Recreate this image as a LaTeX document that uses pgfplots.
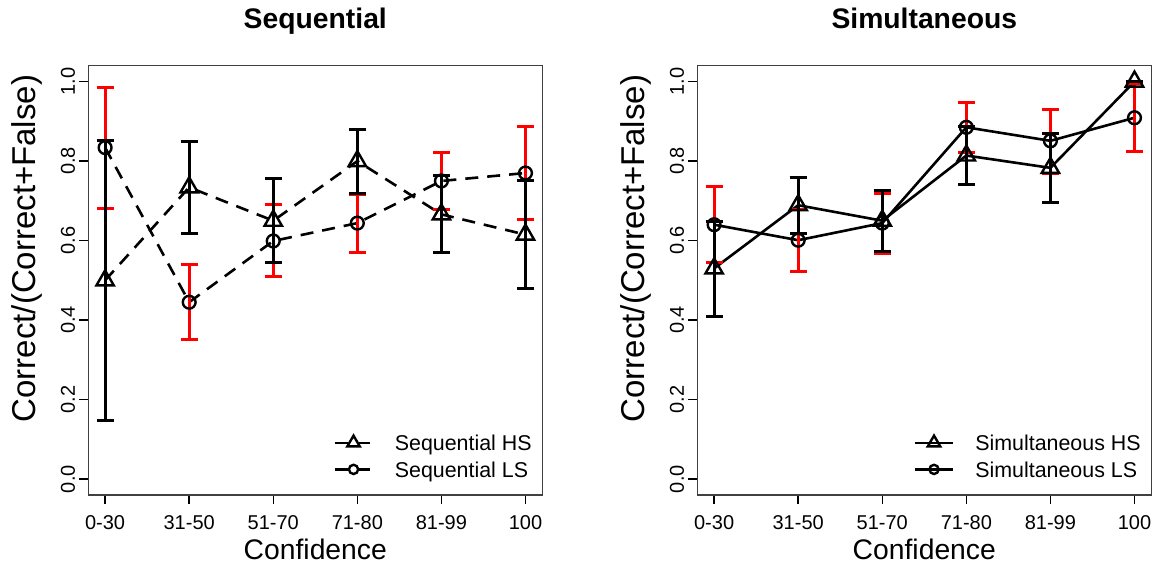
\documentclass[border=0pt]{standalone}
\usepackage{fontspec}
\setmainfont{Liberation Sans}
\usepackage{pgfplots}
\pgfplotsset{compat=1.18}
\usepackage{pgfplotstable}

\pgfplotstableread{
x y ep em
1 0.500 0.353 0.352
2 0.734 0.115 0.115
3 0.650 0.107 0.106
4 0.800 0.080 0.081
5 0.666 0.099 0.095
6 0.615 0.135 0.135
}\seqHS
\pgfplotstableread{
x y ep em
1 0.834 0.152 0.153
2 0.445 0.096 0.095
3 0.599 0.091 0.089
4 0.644 0.073 0.075
5 0.750 0.072 0.073
6 0.770 0.116 0.118
}\seqLS
\pgfplotstableread{
x y ep em
1 0.530 0.118 0.120
2 0.689 0.070 0.070
3 0.650 0.076 0.077
4 0.814 0.074 0.074
5 0.783 0.087 0.086
6 1.000 0.000 0.000
}\simHS
\pgfplotstableread{
x y ep em
1 0.640 0.097 0.094
2 0.601 0.076 0.078
3 0.644 0.075 0.076
4 0.885 0.062 0.063
5 0.851 0.079 0.081
6 0.909 0.086 0.086
}\simLS

\pgfplotsset{
  rpanel/.style={
    anchor=south west,
    scale only axis, width=454pt, height=429.3pt,
    xmin=0.8, xmax=6.2, ymin=-0.04, ymax=1.04,
    xtick={1,2,3,4,5,6},
    xticklabels={0-30,31-50,51-70,71-80,81-99,100},
    ytick={0,0.2,0.4,0.6,0.8,1.0},
    /pgf/number format/assume math mode=true,
    yticklabel style={rotate=90, anchor=south, inner sep=0pt,
      /pgf/number format/.cd, fixed, fixed zerofill, precision=1},
    xticklabel style={anchor=north, inner sep=0pt},
    yticklabel shift=4pt,
    xticklabel shift=11pt,
    tick label style={font=\fontsize{20}{24}\selectfont},
    tick align=outside, tick pos=left, major tick length=9pt,
    tick style={black, line width=1.5pt},
    axis line style={black!75, line width=1.5pt},
    title style={font=\bfseries\fontsize{28.3}{34}\selectfont, at={(0.5,1.0715)}, anchor=base},
    xlabel={Confidence},
    xlabel style={font=\fontsize{28.3}{34}\selectfont, at={(0.5,-0.1498)}, anchor=base},
    ylabel={Correct/(Correct+False)},
    ylabel style={font=\fontsize{33}{38}\selectfont, at={(-0.1167,0.574)}, anchor=base},
    legend style={at={(0.977,0.0305)}, anchor=south east, draw=none, fill=none,
      inner sep=0pt, row sep=2pt,
      font=\fontsize{21.4}{25}\selectfont,
      nodes={inner sep=0pt, text height=20pt, text depth=4.6pt},
      /tikz/every odd column/.append style={column sep=21pt}},
    legend cell align=left,
    legend image code/.code={\draw[mark repeat=2,mark phase=2,##1,every mark/.append style={scale=0.72}] plot coordinates {(0pt,0pt) (19pt,0pt) (38pt,0pt)};},
  },
  hsline/.style={black, line width=2.6pt, mark=triangle, mark size=10pt, mark options={solid, line width=2.4pt}},
  lsline/.style={black, line width=2.6pt, mark=o, mark size=6.4pt, mark options={solid, line width=2.4pt}},
  redbars/.style={forget plot, draw=none, mark=none,
    error bars/.cd, y dir=both, y explicit,
    error bar style={draw=red, line width=3pt, solid},
    error mark options={rotate=90, draw=red, line width=3pt, mark size=8.5pt, solid}},
  blackbars/.style={forget plot, draw=none, mark=none,
    error bars/.cd, y dir=both, y explicit,
    error bar style={draw=black, line width=3pt, solid},
    error mark options={rotate=90, draw=black, line width=3pt, mark size=8.5pt, solid}},
}

\begin{document}
\begin{tikzpicture}
\useasboundingbox (0pt,0pt) rectangle (1160pt,565pt);
\begin{axis}[rpanel, at={(88.3pt,70pt)}, title={Sequential}]
\addplot[hsline, dash pattern=on 13pt off 9pt] table[x=x,y=y]{\seqHS};
\addlegendentry{Sequential HS}
\addplot[lsline, dash pattern=on 13pt off 9pt] table[x=x,y=y]{\seqLS};
\addlegendentry{Sequential LS}
\addplot[redbars] table[x=x,y=y,y error plus=ep,y error minus=em]{\seqLS};
\addplot[blackbars] table[x=x,y=y,y error plus=ep,y error minus=em]{\seqHS};
\end{axis}
\begin{axis}[rpanel, at={(697.3pt,70pt)}, title={Simultaneous}]
\addplot[hsline] table[x=x,y=y]{\simHS};
\addlegendentry{Simultaneous HS}
\addplot[lsline] table[x=x,y=y]{\simLS};
\addlegendentry{Simultaneous LS}
\addplot[redbars] table[x=x,y=y,y error plus=ep,y error minus=em]{\simLS};
\addplot[blackbars] table[x=x,y=y,y error plus=ep,y error minus=em]{\simHS};
\end{axis}
\end{tikzpicture}
\end{document}
